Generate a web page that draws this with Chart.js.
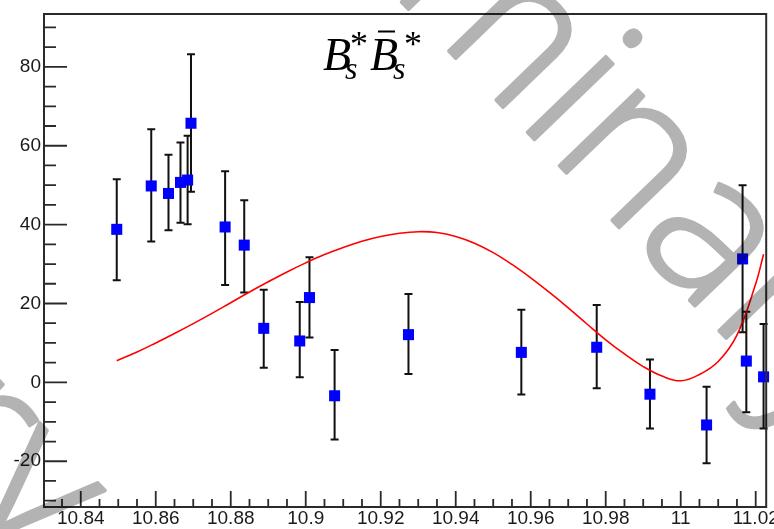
<!DOCTYPE html>
<html>
<head>
<meta charset="utf-8">
<title>Bs* anti-Bs* yield scan</title>
<script src="https://cdn.jsdelivr.net/npm/chart.js@4.4.1/dist/chart.umd.min.js"></script>
<style>
  html, body { margin: 0; padding: 0; background: #ffffff; }
  #wrap { width: 774px; height: 529px; position: relative; overflow: hidden; }
</style>
</head>
<body>
<div id="wrap"><canvas id="chart" width="774" height="529"></canvas></div>
<script>
// Scan points: centre-of-mass energy (GeV) and measured yield
const energies = [10.8496, 10.8588, 10.8634, 10.8666, 10.8685, 10.8694, 10.8785, 10.8836,
                  10.8888, 10.8984, 10.9010, 10.9077, 10.9274, 10.9575, 10.9776, 10.9918,
                  11.0069, 11.0165, 11.0175, 11.0221];
const yields   = [38.8, 49.8, 47.9, 50.7, 51.3, 65.7, 39.4, 34.8,
                  13.7, 10.5, 21.5, -3.4, 12.1, 7.6, 8.9, -3.0,
                  -10.8, 31.3, 5.4, 1.4];
// Upper and lower ends of each error bar
const errHigh  = [51.5, 64.2, 57.7, 60.8, 62.5, 83.2, 53.5, 46.2,
                  23.5, 20.4, 31.7, 8.2, 22.4, 18.4, 19.6, 5.8,
                  -1.1, 50.0, 17.9, 14.8];
const errLow   = [25.9, 35.7, 38.6, 40.5, 40.1, 48.3, 24.7, 22.8,
                  3.7, 1.3, 11.4, -14.5, 2.1, -3.1, -1.5, -11.7,
                  -20.5, 12.7, -7.6, -11.7];

// Fitted line shape
const fitX = [10.8496, 10.855, 10.86, 10.865, 10.87, 10.875, 10.88, 10.885, 10.89, 10.895,
              10.90, 10.905, 10.91, 10.915, 10.92, 10.925, 10.93, 10.935, 10.94, 10.945,
              10.95, 10.955, 10.96, 10.965, 10.97, 10.975, 10.98, 10.985, 10.99, 10.995,
              11.00, 11.005, 11.01, 11.015, 11.02, 11.0221];
const fitY = [5.5, 7.7, 10.0, 12.4, 14.9, 17.5, 20.2, 22.9, 25.5, 28.0,
              30.3, 32.4, 34.2, 35.8, 37.0, 37.8, 38.2, 38.0, 37.0, 35.3,
              32.9, 29.9, 26.5, 22.8, 18.9, 14.8, 10.8, 7.2, 4.0, 1.6,
              0.4, 2.0, 5.3, 12.0, 25.0, 32.5];

// Axis ticks
const xTicks      = [10.84, 10.86, 10.88, 10.90, 10.92, 10.94, 10.96, 10.98, 11.00, 11.02];
const xTickLabels = ['10.84', '10.86', '10.88', '10.9', '10.92', '10.94', '10.96', '10.98', '11', '11.02'];
const xMinor      = [10.835, 10.845, 10.85, 10.855, 10.865, 10.87, 10.875, 10.885, 10.89, 10.895,
                     10.905, 10.91, 10.915, 10.925, 10.93, 10.935, 10.945, 10.95, 10.955,
                     10.965, 10.97, 10.975, 10.985, 10.99, 10.995, 11.005, 11.01, 11.015];
const yTicks      = [-20, 0, 20, 40, 60, 80];
const yTickLabels = ['-20', '0', '20', '40', '60', '80'];
const yMinor      = [-30, -25, -15, -10, -5, 5, 10, 15, 25, 30, 35, 45, 50, 55, 65, 70, 75, 85, 90];

const xRange = [10.8302, 11.0228];
const yRange = [-31.6, 93.4];

const watermarkText = 'Preliminary';

// Vertical error bars, drawn beneath the markers
const errorBars = {
  id: 'errorBars',
  beforeDatasetsDraw(chart) {
    const { ctx, scales: { x, y } } = chart;
    ctx.save();
    ctx.strokeStyle = '#111111';
    ctx.lineWidth = 2;
    energies.forEach((e, i) => {
      const px = x.getPixelForValue(e);
      const top = y.getPixelForValue(errHigh[i]);
      const bot = y.getPixelForValue(errLow[i]);
      ctx.beginPath();
      ctx.moveTo(px, top); ctx.lineTo(px, bot);
      ctx.moveTo(px - 4, top); ctx.lineTo(px + 4, top);
      ctx.moveTo(px - 4, bot); ctx.lineTo(px + 4, bot);
      ctx.stroke();
    });
    ctx.restore();
  }
};

// Frame and inward-pointing tick marks
const frameTicks = {
  id: 'frameTicks',
  afterDatasetsDraw(chart) {
    const { ctx, chartArea: a, scales: { x, y } } = chart;
    ctx.save();
    ctx.strokeStyle = '#2a2a2a';
    ctx.lineWidth = 2;
    ctx.strokeRect(a.left, a.top, a.right - a.left, a.bottom - a.top);
    ctx.lineWidth = 1.8;
    ctx.beginPath();
    yTicks.forEach(v => { const p = y.getPixelForValue(v); ctx.moveTo(a.left, p); ctx.lineTo(a.left + 23, p); });
    yMinor.forEach(v => { const p = y.getPixelForValue(v); ctx.moveTo(a.left, p); ctx.lineTo(a.left + 12, p); });
    xTicks.forEach(v => { const p = x.getPixelForValue(v); ctx.moveTo(p, a.bottom); ctx.lineTo(p, a.bottom - 16); });
    xMinor.forEach(v => { const p = x.getPixelForValue(v); ctx.moveTo(p, a.bottom); ctx.lineTo(p, a.bottom - 8); });
    ctx.stroke();
    ctx.restore();
  }
};

// Title with sub- and superscripts
function placeInk(ctx, text, font, inkLeft, baseline) {
  ctx.font = font;
  const m = ctx.measureText(text);
  ctx.fillText(text, inkLeft + m.actualBoundingBoxLeft, baseline);
  return m;
}
function placeTop(ctx, text, font, inkLeft, inkTop) {
  ctx.font = font;
  const m = ctx.measureText(text);
  ctx.fillText(text, inkLeft + m.actualBoundingBoxLeft, inkTop + m.actualBoundingBoxAscent);
}
const titlePlugin = {
  id: 'formulaTitle',
  afterDatasetsDraw(chart) {
    const ctx = chart.ctx;
    const big = 'italic 46px "Liberation Serif", serif';
    const small = 'italic 32px "Liberation Serif", serif';
    const star = '36px "Liberation Serif", serif';
    ctx.save();
    ctx.fillStyle = '#000000';
    ctx.textAlign = 'left';
    ctx.textBaseline = 'alphabetic';
    placeInk(ctx, 'B', big, 323, 70);
    placeInk(ctx, 's', small, 345, 79);
    placeTop(ctx, '*', star, 351, 32);
    placeInk(ctx, 'B', big, 370, 70);
    placeInk(ctx, 's', small, 393, 79);
    placeTop(ctx, '*', star, 405, 32);
    ctx.strokeStyle = '#000000';
    ctx.lineWidth = 2;
    ctx.beginPath();
    ctx.moveTo(378, 31.5); ctx.lineTo(395, 31.5);
    ctx.stroke();
    ctx.restore();
  }
};

// Diagonal grey watermark, multiplied over the finished plot
function drawWord(c, anchorIndex, ax, ay, angle, size) {
  c.save();
  c.font = '300 ' + size + 'px "Open Sans", "DejaVu Sans", sans-serif';
  const pre = c.measureText(watermarkText.slice(0, anchorIndex)).width;
  const ch = c.measureText(watermarkText[anchorIndex]).width;
  c.translate(ax, ay);
  c.rotate(angle);
  c.fillText(watermarkText, -(pre + ch / 2), 0);
  c.lineWidth = 3.5;
  c.lineJoin = 'round';
  c.lineCap = 'round';
  c.strokeText(watermarkText, -(pre + ch / 2), 0);
  c.restore();
}
const watermark = {
  id: 'watermark',
  afterDraw(chart) {
    const ctx = chart.ctx;
    const off = document.createElement('canvas');
    off.width = chart.width; off.height = chart.height;
    const c = off.getContext('2d');
    c.fillStyle = '#b3b3b3';
    c.strokeStyle = '#b3b3b3';
    c.textBaseline = 'alphabetic';
    const ang = 46 * Math.PI / 180;
    drawWord(c, 6, 531, 136, ang, 205);
    drawWord(c, 10, -6, 532, ang, 205);
    ctx.save();
    ctx.globalCompositeOperation = 'multiply';
    ctx.drawImage(off, 0, 0);
    ctx.restore();
  }
};

const tickFont = { family: '"Liberation Sans", Arial, sans-serif', size: 19 };

new Chart(document.getElementById('chart'), {
  type: 'scatter',
  data: {
    datasets: [
      {
        label: 'yield',
        data: energies.map((e, i) => ({ x: e, y: yields[i] })),
        pointStyle: 'rect',
        pointRadius: 7.8,
        pointHoverRadius: 7.8,
        backgroundColor: '#0000ff',
        borderWidth: 0,
        showLine: false,
        clip: false,
        order: 0
      },
      {
        label: 'fit',
        data: fitX.map((e, i) => ({ x: e, y: fitY[i] })),
        showLine: true,
        borderColor: '#ff0000',
        borderWidth: 1.6,
        pointRadius: 0,
        tension: 0.4,
        fill: false,
        order: 1
      }
    ]
  },
  options: {
    responsive: false,
    animation: false,
    devicePixelRatio: 1,
    layout: { padding: { top: 14, right: 5, left: 0, bottom: 0 } },
    plugins: { legend: { display: false }, tooltip: { enabled: false } },
    events: [],
    scales: {
      x: {
        type: 'linear',
        min: xRange[0],
        max: xRange[1],
        grid: { display: false, drawTicks: false },
        border: { display: false },
        afterBuildTicks: s => { s.ticks = xTicks.map(v => ({ value: v })); },
        afterFit: s => { s.height = 22; s.paddingLeft = 0; s.paddingRight = 0; },
        ticks: {
          autoSkip: false, maxRotation: 0, minRotation: 0, padding: 0,
          color: '#1a1a1a', font: tickFont,
          callback: (v, i) => xTickLabels[i]
        }
      },
      y: {
        type: 'linear',
        min: yRange[0],
        max: yRange[1],
        grid: { display: false, drawTicks: false },
        border: { display: false },
        afterBuildTicks: s => { s.ticks = yTicks.map(v => ({ value: v })); },
        afterFit: s => { s.width = 44; s.paddingTop = 0; s.paddingBottom = 0; },
        ticks: {
          autoSkip: false, padding: 3,
          color: '#1a1a1a', font: tickFont,
          callback: (v, i) => yTickLabels[i]
        }
      }
    }
  },
  plugins: [errorBars, frameTicks, titlePlugin, watermark]
});
</script>
</body>
</html>
